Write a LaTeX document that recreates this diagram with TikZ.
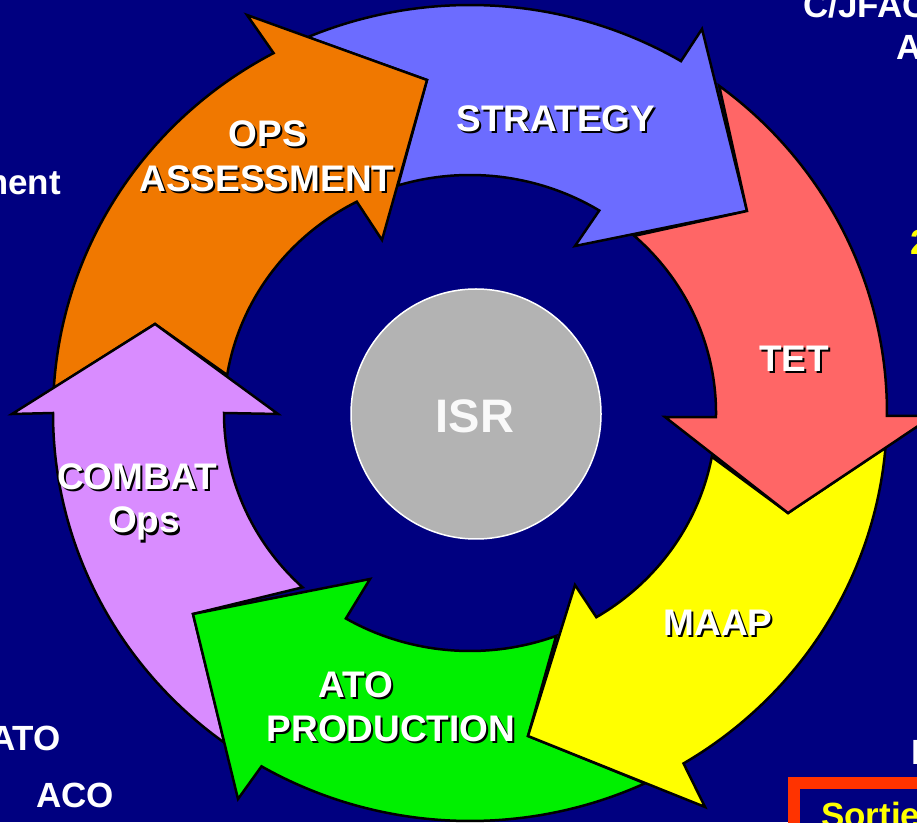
\documentclass[tikz,border=0pt]{standalone}
\usepackage{fontspec}
\setmainfont{Liberation Sans}
\usetikzlibrary{calc}
\definecolor{bgnavy}{RGB}{0,0,128}
\definecolor{cblue}{RGB}{108,108,255}
\definecolor{cred}{RGB}{255,102,102}
\definecolor{cyellow}{RGB}{255,255,0}
\definecolor{cgreen}{RGB}{0,240,0}
\definecolor{cpurple}{RGB}{217,140,255}
\definecolor{corange}{RGB}{240,120,0}
\definecolor{cisr}{RGB}{179,179,179}
\definecolor{boxred}{RGB}{255,51,0}
\begin{document}
\begin{tikzpicture}[x=1pt,y=1pt,
  arrowshape/.style={draw=black,line width=2.5pt,line join=miter},
  lbl/.style={text=white,font=\fontsize{37}{44}\selectfont\bfseries,inner sep=0pt,anchor=base},
  lblsh/.style={lbl,text=black},
  edgetxt/.style={text=white,font=\fontsize{35}{40}\selectfont\bfseries,inner sep=0pt}]
\useasboundingbox (0,0) rectangle (917,822);
\fill[bgnavy] (0,0) rectangle (917,822);
\coordinate (C) at (470,409);
% STRATEGY (blue)
\filldraw[arrowshape,fill=cblue] ($(C)+(112.9:417 and 408)$) arc[start angle=112.9,end angle=59.6,x radius=417,y radius=408]
  -- (702,793) -- (747,611) -- (575,576)
  -- ($(C)+(58.3:246 and 238)$) arc[start angle=58.3,end angle=107,x radius=246,y radius=238]
  -- (427,742) -- cycle;
% OPS ASSESSMENT (orange)
\filldraw[arrowshape,fill=corange] ($(C)+(176.5:417 and 408)$) arc[start angle=176.5,end angle=118.1,x radius=417,y radius=408]
  -- (247,807) -- (427,742) -- (382,582)
  -- ($(C)+(117.4:246 and 238)$) arc[start angle=117.4,end angle=170.8,x radius=246,y radius=238]
  -- (155,498) -- cycle;
% COMBAT Ops (purple)
\filldraw[arrowshape,fill=cpurple] ($(C)+(-126.1:417 and 408)$) arc[start angle=-126.1,end angle=-180,x radius=417,y radius=408]
  -- (12,408) -- (155,498) -- (278,408)
  -- ($(C)+(-180:246 and 238)$) arc[start angle=-180,end angle=-132.9,x radius=246,y radius=238]
  -- (193,208) -- cycle;
% ATO PRODUCTION (green)
\filldraw[arrowshape,fill=cgreen] ($(C)+(-65.2:417 and 408)$) arc[start angle=-65.2,end angle=-120,x radius=417,y radius=408]
  -- (238,23) -- (193,208) -- (370,243)
  -- ($(C)+(-120.3:246 and 238)$) arc[start angle=-120.3,end angle=-69.5,x radius=246,y radius=238]
  -- (528,86) -- cycle;
% MAAP (yellow)
\filldraw[arrowshape,fill=cyellow] ($(C)+(-4.9:417 and 408)$) arc[start angle=-4.9,end angle=-59.2,x radius=417,y radius=408]
  -- (705,15) -- (528,86) -- (575,237)
  -- ($(C)+(-59.1:246 and 238)$) arc[start angle=-59.1,end angle=-10.6,x radius=246,y radius=238]
  -- (788,309) -- cycle;
% TET (red)
\filldraw[arrowshape,fill=cred] ($(C)+(53.3:417 and 408)$) arc[start angle=53.3,end angle=-0.4,x radius=417,y radius=408]
  -- (933,406) -- (788,309) -- (665,405)
  -- ($(C)+(-1:246 and 238)$) arc[start angle=-1,end angle=48.1,x radius=246,y radius=238]
  -- (747,611) -- cycle;
% ISR
\node[circle,fill=cisr,draw=white,line width=1.5pt,minimum size=250pt,inner sep=0pt] (isr) at (476,408) {};
\node[text=white!95!gray,font=\fontsize{47}{50}\selectfont\bfseries,inner sep=0pt,anchor=base] (isrt) at (475,389) {ISR};
% labels with shadow
\node[lblsh] (strats) at (558,688) {STRATEGY};
\node[lbl] (strat) at (556,690) {STRATEGY};
\node[lblsh] (ops1s) at (270,673) {OPS};
\node[lbl] (ops1) at (268,675) {OPS};
\node[lblsh] (ops2s) at (269,628) {ASSESSMENT};
\node[lbl] (ops2) at (267,630) {ASSESSMENT};
\node[lblsh] (tets) at (796,448) {TET};
\node[lbl] (tet) at (794,450) {TET};
\node[lblsh] (maaps) at (720,185) {MAAP};
\node[lbl] (maap) at (718,187) {MAAP};
\node[lblsh] (ato1s) at (358,123) {ATO};
\node[lbl] (ato1) at (356,125) {ATO};
\node[lblsh] (ato2s) at (393,79) {PRODUCTION};
\node[lbl] (ato2) at (391,81) {PRODUCTION};
\node[lblsh] (cb1s) at (139,330) {COMBAT};
\node[lbl] (cb1) at (137,332) {COMBAT};
\node[lblsh] (cb2s) at (146,287) {Ops};
\node[lbl] (cb2) at (144,289) {Ops};
% edge texts
\node[edgetxt,anchor=base west] (cj) at (803,804) {C/JFAC};
\node[edgetxt,anchor=base west] (ca) at (896,762) {A};
\node[edgetxt,anchor=base east] (ment) at (61,627) {ment};
\node[edgetxt,anchor=base east] (atol) at (61,72) {ATO};
\node[edgetxt,anchor=base west] (aco) at (36,15) {ACO};
\node[edgetxt,anchor=base west,text=cyellow] (two) at (910,567) {2};
\node[edgetxt,anchor=base west] (ri) at (911,58) {I};
\draw[boxred,line width=12pt,fill=bgnavy] (794,39) rectangle (960,-40);
\node[edgetxt,anchor=base west,text=cyellow] (sortie) at (821,-5) {Sortie};
\end{tikzpicture}
\end{document}
